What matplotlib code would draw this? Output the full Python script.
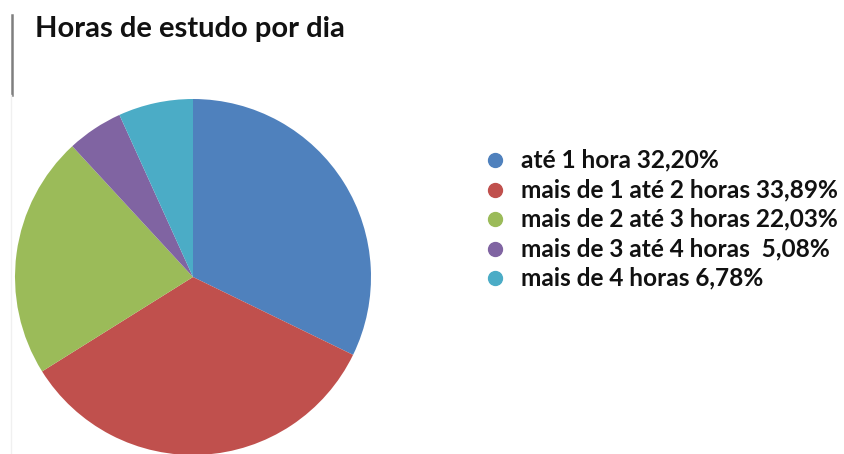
#!/usr/bin/env python3
"""Pie chart: Horas de estudo por dia."""

import matplotlib

matplotlib.use("Agg")
import matplotlib.pyplot as plt
from matplotlib.lines import Line2D

plt.rcParams["font.family"] = ["Lato", "DejaVu Sans"]

categories = [
    "até 1 hora",
    "mais de 1 até 2 horas",
    "mais de 2 até 3 horas",
    "mais de 3 até 4 horas ",
    "mais de 4 horas",
]
percent = [32.20, 33.89, 22.03, 5.08, 6.78]
colors = ["#4F81BD", "#C0504D", "#9BBB59", "#8064A2", "#4BACC6"]

W, H = 844, 454
fig = plt.figure(figsize=(W / 100, H / 100), dpi=100)

# pie centre ~ (193, 277) px, radius ~178 px
cx, cy, r = 193, 277, 178
ax = fig.add_axes([(cx - r) / W, (H - cy - r) / H, 2 * r / W, 2 * r / H])
ax.pie(percent, colors=colors, startangle=90, counterclock=False, radius=1.0,
       wedgeprops=dict(linewidth=0))
ax.set_xlim(-1, 1)
ax.set_ylim(-1, 1)
ax.set_aspect("equal")
ax.axis("off")

fig.text(35 / W, 1 - 29 / H, "Horas de estudo por dia", fontsize=21,
         fontweight="bold", va="center", ha="left", color="#111111")

# left border lines
fig.add_artist(Line2D([12 / W, 12 / W], [1 - 15 / H, 1 - 95 / H], color="#7f7f7f", lw=1.8))
fig.add_artist(Line2D([11 / W, 11 / W], [1 - 95 / H, 0], color="#f0f0f0", lw=1))

# legend, drawn row by row
labels = [f"{c} {p:.2f}%".replace(".", ",") for c, p in zip(categories, percent)]
y0, step = 160, 29.5
for i, (lab, col) in enumerate(zip(labels, colors)):
    y = 1 - (y0 + i * step) / H
    fig.add_artist(Line2D([495 / W], [y], marker="o", markersize=10, color=col,
                          linestyle=""))
    fig.text(521 / W, y, lab, fontsize=17.6, fontweight="bold", va="center",
             ha="left", color="#111111")

fig.savefig("out.png", dpi=100)
